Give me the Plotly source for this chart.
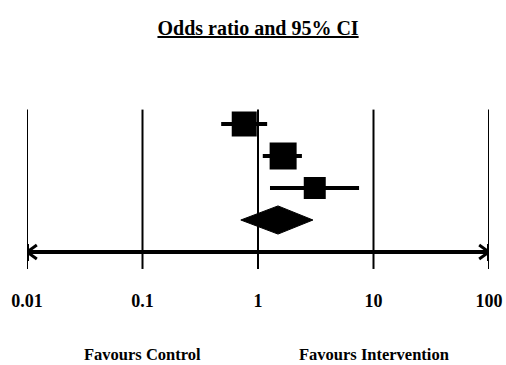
import plotly.graph_objects as go
import numpy as np

# Data
study_or = [0.76, 1.65, 3.1]
study_lo = [0.48, 1.10, 1.27]
study_hi = [1.20, 2.40, 7.5]
study_size = [25, 27, 22]
study_row = [1, 2, 3]
pooled_or = 1.49
pooled_lo = 0.71
pooled_hi = 2.99
pooled_row = 4
tick_vals = [0.01, 0.1, 1, 10, 100]
tick_text = ["0.01", "0.1", "1", "10", "100"]
title_text = "Odds ratio and 95% CI"
left_label = "Favours Control"
right_label = "Favours Intervention"

FONT = "Liberation Serif"
axis_row = pooled_row + 1

fig = go.Figure()

# vertical reference lines
shapes = []
for v in tick_vals:
    shapes.append(dict(type="line", xref="x", yref="y", x0=v, x1=v, y0=0.55, y1=axis_row + 0.53,
                       line=dict(color="black", width=2)))
# thicker segments at the axis ends
for v in [tick_vals[0], tick_vals[-1]]:
    shapes.append(dict(type="line", xref="x", yref="y", x0=v, x1=v, y0=axis_row - 0.25, y1=axis_row + 0.28,
                       line=dict(color="black", width=4)))
# horizontal axis line
shapes.append(dict(type="line", xref="x", yref="y", x0=tick_vals[0], x1=tick_vals[-1], y0=axis_row, y1=axis_row,
                   line=dict(color="black", width=4)))

# arrowheads
dlog = 0.085
dy = 0.22
lo_t = np.log10(tick_vals[0]); hi_t = np.log10(tick_vals[-1])
for tip, sgn in [(lo_t, 1), (hi_t, -1)]:
    fig.add_trace(go.Scatter(
        x=[10 ** (tip + sgn * dlog), 10 ** tip, 10 ** (tip + sgn * dlog)],
        y=[axis_row - dy, axis_row, axis_row + dy],
        mode="lines", line=dict(color="black", width=3), hoverinfo="skip", showlegend=False))

# studies
fig.add_trace(go.Scatter(
    x=study_or, y=study_row, mode="markers",
    marker=dict(symbol="square", size=study_size, color="black", opacity=1, line=dict(width=0)),
    error_x=dict(type="data", symmetric=False,
                 array=[h - o for h, o in zip(study_hi, study_or)],
                 arrayminus=[o - l for o, l in zip(study_or, study_lo)],
                 color="black", thickness=4, width=0),
    showlegend=False))

# pooled diamond
h = 0.44
fig.add_trace(go.Scatter(
    x=[pooled_lo, pooled_or, pooled_hi, pooled_or, pooled_lo],
    y=[pooled_row, pooled_row - h, pooled_row, pooled_row + h, pooled_row],
    mode="lines", fill="toself", fillcolor="black", line=dict(color="black", width=1),
    showlegend=False))

fig.update_layout(
    width=506, height=365,
    margin=dict(l=27, r=17, t=60, b=77),
    paper_bgcolor="white", plot_bgcolor="white",
    shapes=shapes,
    showlegend=False,
    title=dict(text="<u>" + title_text + "</u>", x=0.51, xanchor="center", y=1 - 28 / 365, yanchor="middle",
               font=dict(family=FONT, size=20, color="black", weight="bold")),
    xaxis=dict(type="log", range=[-2, 2], tickvals=tick_vals, ticktext=tick_text,
               showgrid=False, zeroline=False, showline=False, ticks="", automargin=False,
               tickfont=dict(family=FONT, size=18, color="black", weight="bold")),
    yaxis=dict(range=[6.125, -1], showgrid=False, zeroline=False, showline=False,
               showticklabels=False, ticks="", automargin=False),
    annotations=[
        dict(text=left_label, x=-1, xref="x", y=-0.29, yref="paper", showarrow=False,
             xanchor="center", yanchor="middle", borderpad=0,
             font=dict(family=FONT, size=16.5, color="black", weight="bold")),
        dict(text=right_label, x=1, xref="x", y=-0.29, yref="paper", showarrow=False,
             xanchor="center", yanchor="middle", borderpad=0,
             font=dict(family=FONT, size=16.5, color="black", weight="bold")),
    ],
)

fig.write_html("out.html", config={"displayModeBar": False},
               post_script="document.body.style.margin='0';document.body.style.overflow='hidden';")
